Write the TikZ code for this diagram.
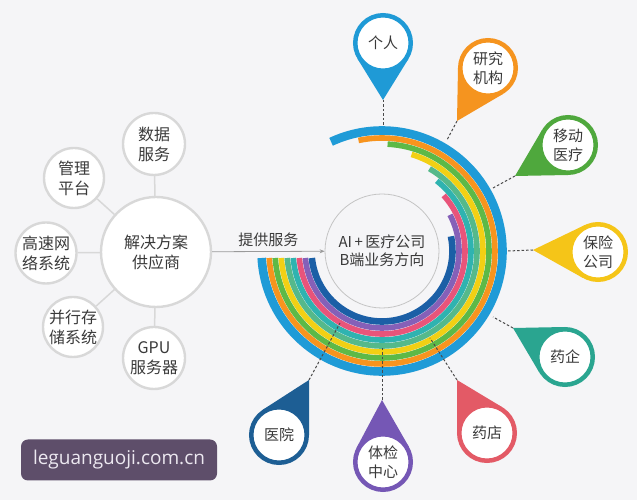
\documentclass[tikz,border=0pt]{standalone}
\usepackage{fontspec}
\setmainfont{Open Sans}
\newfontfamily\cjk{Noto Sans CJK SC}
\newfontfamily\wmfont{Open Sans}
\usetikzlibrary{calc,arrows.meta}
\definecolor{bgc}{HTML}{F5F5F7}
\definecolor{txtc}{HTML}{3A3A3A}
\definecolor{gline}{HTML}{D8D8D8}
\definecolor{ccline}{HTML}{C4C4C4}
\definecolor{dashc}{HTML}{4A4A4A}
\definecolor{arrc}{HTML}{9A9A9A}
\definecolor{wmc}{HTML}{5E4E6A}
\definecolor{wmtext}{HTML}{ECE8F0}
\definecolor{rblue}{HTML}{1F9BD7}
\definecolor{rorange}{HTML}{F7941E}
\definecolor{rgreen}{HTML}{5DB947}
\definecolor{ryellow}{HTML}{F2D014}
\definecolor{rlgreen}{HTML}{55B98B}
\definecolor{rteal}{HTML}{2FB3B0}
\definecolor{rpink}{HTML}{E8547A}
\definecolor{rpurple}{HTML}{8560B8}
\definecolor{rdblue}{HTML}{1B5FA6}
\definecolor{pblue}{HTML}{1F9AD6}
\definecolor{porange}{HTML}{F5941F}
\definecolor{pgreen}{HTML}{4FA83D}
\definecolor{pyellow}{HTML}{F5C518}
\definecolor{pteal}{HTML}{2AA590}
\definecolor{pred}{HTML}{E35A66}
\definecolor{ppurple}{HTML}{7557B5}
\definecolor{pdblue}{HTML}{1D5E94}
\pgfdeclarelayer{back}
\pgfdeclarelayer{mid}
\pgfsetlayers{back,mid,main}
\newcommand\mkpin[6]{%
  \node[pinc=#5] (#1) at (#2) {#6};
  \coordinate (#1-tip) at (#3);
  \coordinate (#1-end) at (#4);
  \begin{pgfonlayer}{mid}
  \fill[#5] (#1-tip) -- (tangent cs:node=#1,point={(#1-tip)},solution=1) -- (#1.center) -- (tangent cs:node=#1,point={(#1-tip)},solution=2) -- cycle;
  \end{pgfonlayer}
  \draw[dashl] (#1-tip) -- (#1-end);
}
\begin{document}
\begin{tikzpicture}[x=1pt,y=1pt,
  gcirc/.style={circle, draw=gline, line width=2.4pt, fill=white, inner sep=0pt, minimum size=60pt, font=\cjk\fontsize{16}{20}\selectfont, text=txtc, align=center},
  pinc/.style={circle, draw=#1, line width=4.5pt, fill=white, inner sep=0pt, minimum size=55.5pt, font=\cjk\fontsize{15}{19}\selectfont, text=txtc, align=center},
  dashl/.style={draw=dashc, line width=1pt, dash pattern=on 2.5pt off 2pt},
  conn/.style={draw=gline, line width=1.5pt},
]
\begin{pgfonlayer}{back}
\fill[bgc] (0,0) rectangle (637,500);
\end{pgfonlayer}
\useasboundingbox (0,0) rectangle (637,500);

% rings
\coordinate (O) at (382,249);
\foreach \r/\w/\e/\c in {120.5/9/115/rblue, 113/6/102/rorange, 107/6/87/rgreen, 101/6/73/ryellow, 95/6/60/rlgreen, 89/6/52/rteal, 83/6/42/rpink, 77/6/28/rpurple, 70.5/7/12/rdblue}{
  \pgfmathsetmacro\sa{180+asin(7/\r)}
  \draw[\c, line width=\w pt-0.4pt] ($(O)+(\sa:\r pt)$) arc[start angle=\sa, end angle=360+\e, radius=\r pt];
}

% center circle
\node[circle, draw=ccline, line width=0.8pt, minimum size=114pt, inner sep=0pt, font=\cjk\fontsize{15}{18}\selectfont, text=txtc, align=center] (ctr) at (O) {AI\,+\,医疗公司\\B端业务方向};

% left cluster
\node[gcirc, minimum size=110pt] (big) at (156,248) {解决方案\\供应商};
\node[gcirc, minimum size=62pt] (shuju) at (154,356) {数据\\服务};
\node[gcirc] (guanli) at (74,322) {管理\\平台};
\node[gcirc, minimum size=61pt] (gaosu) at (46,247) {高速网\\络系统};
\node[gcirc] (bingxing) at (73,173) {并行存\\储系统};
\node[gcirc, minimum size=62pt] (gpu) at (154,142) {GPU\\服务器};
\begin{pgfonlayer}{mid}
\foreach \s in {shuju,guanli,gaosu,bingxing,gpu}{\draw[conn] (big) -- (\s);}
\end{pgfonlayer}

\draw[arrc, line width=0.8pt, -{Stealth[length=5pt,width=4pt]}] (big) -- (ctr) node[midway, above=1pt, font=\cjk\fontsize{15}{18}\selectfont, text=txtc] (lbl) {提供服务};

% pins
\mkpin{geren}{383,457}{383,400}{383,374}{pblue}{个人}
\mkpin{yanjiu}{488,432}{457,379}{447,360}{porange}{研究\\机构}
\mkpin{yidong}{568,355}{515,324}{493,312}{pgreen}{移动\\医疗}
\mkpin{baoxian}{598,248}{533,250}{508,249}{pyellow}{保险\\公司}
\mkpin{yaoqi}{565,143}{513,172}{493,183}{pteal}{药企}
\mkpin{yaodian}{487,67}{457,120}{430,162}{pred}{药店}
\mkpin{tijian}{383,38}{382,100}{382,152}{ppurple}{体检\\中心}
\mkpin{yiyuan}{279,65}{309,120}{340,177}{pdblue}{医院}

% watermark
\node[fill=wmc, rounded corners=7pt, minimum width=196pt, minimum height=41pt, inner sep=0pt, text=wmtext, font=\wmfont\fontsize{19}{22}\selectfont] (wm) at (119,40) {leguanguoji.com.cn};
\end{tikzpicture}
\end{document}
